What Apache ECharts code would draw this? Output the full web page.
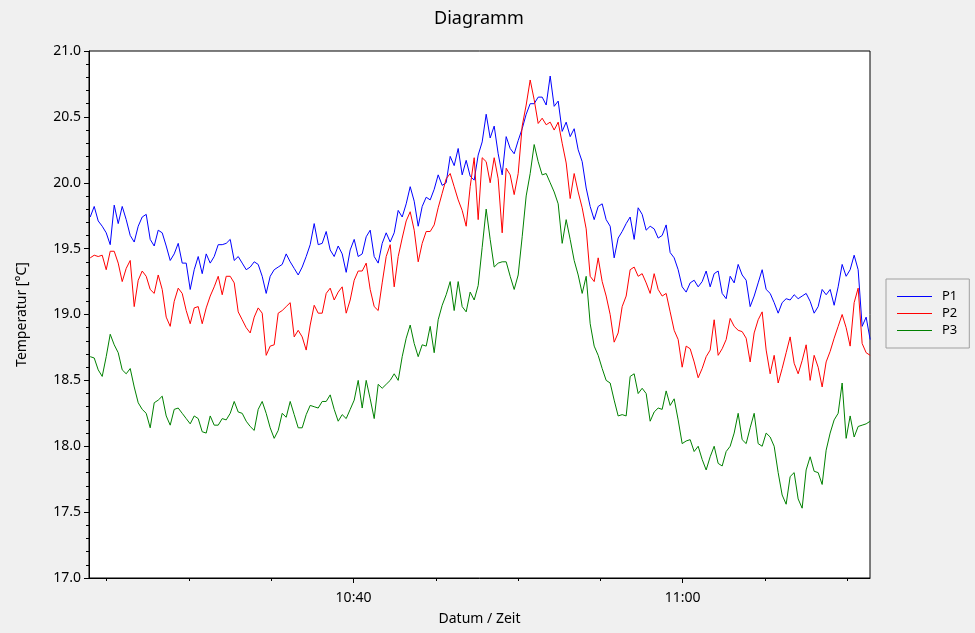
<!DOCTYPE html>
<html><head><meta charset="utf-8">
<script src="https://cdn.jsdelivr.net/npm/echarts@6/dist/echarts.min.js"></script>
<style>html,body{margin:0;padding:0;background:#f0f0f0}#c{width:975px;height:633px}</style>
</head><body><div id="c"></div>
<script>
// time in minutes after 10:00
const startMinute = 24.004;
const stepMinute = 0.2430;
const xMin = 23.93, xMax = 71.38;
const xTicks = [25, 30, 35, 45, 50, 55, 65, 70];
const xLabels = [40, 60];
const seriesNames = ['P1', 'P2', 'P3'];

const p1 = [
19.74,19.82,19.71,19.67,19.62,19.53,19.83,19.69,19.82,19.72,19.60,19.55,19.67,19.74,19.76,19.57,19.52,19.64,19.62,19.52,19.41,19.46,19.54,19.39,19.39,19.19,19.34,19.44,19.31,19.46,19.39,19.44,19.53,19.53,19.54,19.57,19.41,19.44,19.39,19.34,19.36,19.40,19.38,19.29,19.16,19.29,19.34,19.36,19.38,
19.46,19.40,19.35,19.30,19.36,19.44,19.53,19.69,19.53,19.54,19.63,19.49,19.44,19.52,19.46,19.32,19.49,19.57,19.44,19.46,19.59,19.64,19.44,19.39,19.54,19.62,19.55,19.62,19.79,19.74,19.84,19.97,19.86,19.67,19.82,19.89,19.87,19.95,20.06,19.98,20.00,20.20,20.13,20.26,20.06,20.17,20.05,20.02,20.21,
20.31,20.52,20.34,20.43,20.22,20.06,20.35,20.26,20.22,20.32,20.41,20.52,20.60,20.60,20.65,20.65,20.59,20.81,20.58,20.62,20.39,20.46,20.35,20.41,20.25,20.16,19.96,19.82,19.72,19.82,19.84,19.72,19.67,19.43,19.58,19.63,19.69,19.74,19.57,19.81,19.76,19.64,19.67,19.65,19.58,19.60,19.68,19.47,19.43,
19.34,19.21,19.17,19.24,19.26,19.21,19.25,19.33,19.21,19.31,19.33,19.16,19.12,19.29,19.24,19.38,19.30,19.26,19.06,19.14,19.24,19.34,19.19,19.16,19.09,19.01,19.09,19.12,19.11,19.15,19.12,19.14,19.16,19.10,19.01,19.06,19.19,19.15,19.19,19.07,19.21,19.38,19.29,19.34,19.45,19.34,18.91,18.98,18.81
];
const p2 = [
19.43,19.45,19.44,19.45,19.34,19.48,19.48,19.39,19.25,19.35,19.41,19.06,19.26,19.33,19.29,19.19,19.16,19.30,19.19,18.98,18.91,19.10,19.20,19.16,19.03,18.93,19.05,19.06,18.93,19.05,19.14,19.21,19.29,19.15,19.29,19.29,19.24,19.02,18.96,18.90,18.86,18.98,19.05,19.01,18.69,18.76,18.77,19.01,19.03,
19.06,19.09,18.83,18.88,18.83,18.73,18.92,19.07,19.01,19.01,19.16,19.20,19.11,19.17,19.21,19.01,19.11,19.26,19.33,19.33,19.39,19.19,19.06,19.03,19.24,19.44,19.53,19.21,19.44,19.58,19.71,19.78,19.64,19.40,19.54,19.63,19.63,19.68,19.81,19.92,20.03,20.07,19.97,19.87,19.79,19.67,19.97,20.19,19.72,
20.19,20.16,20.00,20.19,20.03,19.62,20.11,20.06,19.91,20.07,20.43,20.59,20.78,20.63,20.45,20.49,20.44,20.46,20.40,20.46,20.30,20.15,19.88,20.07,19.93,19.81,19.65,19.29,19.25,19.43,19.25,19.14,19.00,18.79,18.86,19.06,19.14,19.34,19.36,19.29,19.31,19.24,19.16,19.31,19.19,19.14,19.16,19.02,18.88,
18.81,18.60,18.76,18.74,18.64,18.52,18.59,18.68,18.73,18.96,18.69,18.74,18.81,18.97,18.91,18.88,18.87,18.82,18.64,18.86,18.96,19.02,18.73,18.55,18.69,18.48,18.59,18.71,18.83,18.63,18.55,18.65,18.77,18.50,18.69,18.60,18.45,18.64,18.72,18.82,18.91,19.00,18.90,18.76,19.09,19.20,18.78,18.71,18.69
];
const p3 = [
18.68,18.67,18.58,18.53,18.68,18.85,18.77,18.71,18.58,18.55,18.59,18.45,18.33,18.28,18.25,18.14,18.33,18.35,18.38,18.23,18.16,18.28,18.29,18.25,18.21,18.17,18.23,18.21,18.11,18.10,18.23,18.16,18.16,18.21,18.20,18.25,18.34,18.26,18.25,18.19,18.15,18.12,18.28,18.34,18.25,18.14,18.06,18.12,18.25,
18.22,18.34,18.24,18.14,18.14,18.24,18.31,18.30,18.29,18.34,18.34,18.39,18.28,18.19,18.24,18.21,18.28,18.35,18.50,18.29,18.50,18.36,18.21,18.47,18.44,18.47,18.50,18.55,18.50,18.68,18.82,18.92,18.78,18.68,18.77,18.76,18.91,18.71,18.96,19.07,19.15,19.25,19.03,19.25,19.06,19.02,19.17,19.11,19.22,
19.51,19.80,19.57,19.36,19.39,19.40,19.40,19.29,19.19,19.30,19.59,19.90,20.07,20.29,20.16,20.06,20.07,20.00,19.93,19.84,19.54,19.72,19.57,19.41,19.30,19.16,19.29,18.93,18.76,18.69,18.59,18.50,18.48,18.35,18.23,18.24,18.23,18.53,18.55,18.40,18.44,18.40,18.19,18.26,18.29,18.28,18.42,18.31,18.36,
18.20,18.02,18.04,18.05,17.96,18.00,17.90,17.82,17.92,18.00,17.87,17.85,17.96,18.00,18.10,18.25,18.05,18.02,18.14,18.25,18.02,18.00,18.10,18.07,18.00,17.80,17.63,17.56,17.77,17.80,17.60,17.53,17.82,17.92,17.81,17.80,17.71,17.97,18.10,18.20,18.25,18.48,18.06,18.23,18.07,18.15,18.16,18.17,18.19
];

const colors = ['#0000ff', '#ff0000', '#008000'];
const font = 'Noto Sans';

function pairs(arr) { return arr.map((v, i) => [startMinute + i * stepMinute, v]); }
function fmtTime(m) {
  const h = 10 + Math.floor(m / 60);
  const mm = Math.round(m % 60);
  return h + ':' + String(mm).padStart(2, '0');
}

const chart = echarts.init(document.getElementById('c'), null, { renderer: 'canvas' });
chart.setOption({
  animation: false,
  backgroundColor: '#f0f0f0',
  title: {
    text: 'Diagramm', left: 429, top: 5,
    textStyle: { fontFamily: font, fontSize: 18, fontWeight: 'normal', color: '#000' }
  },
  legend: {
    orient: 'vertical', left: 886, top: 279,
    padding: [11, 12, 11, 11], itemGap: 4, itemWidth: 35, itemHeight: 1, icon: 'rect',
    borderColor: '#a0a0a0', borderWidth: 1, backgroundColor: '#f0f0f0',
    textStyle: { fontFamily: font, fontSize: 13, color: '#000', padding: [0, 0, 0, 5] },
    data: seriesNames
  },
  grid: {
    left: 89, right: 105, top: 51, bottom: 55, show: true,
    backgroundColor: '#ffffff', borderColor: '#000', borderWidth: 1,
    containLabel: false, outerBoundsMode: 'none'
  },
  xAxis: [
    {
      type: 'value', min: xMin, max: xMax, position: 'bottom',
      axisLine: { show: true, lineStyle: { color: '#000', width: 1 } },
      axisTick: { show: true, length: 3, customValues: xTicks, lineStyle: { color: '#000' } },
      axisLabel: { show: false },
      splitLine: { show: false }
    },
    {
      type: 'value', min: xMin, max: xMax, position: 'bottom',
      axisLine: { show: false },
      axisTick: { show: true, length: 5, customValues: xLabels, lineStyle: { color: '#000' } },
      axisLabel: {
        show: true, customValues: xLabels, formatter: fmtTime, margin: 13,
        fontFamily: font, fontSize: 14, color: '#000'
      },
      splitLine: { show: false },
      name: 'Datum / Zeit', nameLocation: 'middle', nameGap: 34,
      nameTextStyle: { fontFamily: font, fontSize: 14, color: '#000' }
    }
  ],
  yAxis: {
    type: 'value', min: 17, max: 21, interval: 0.5,
    axisLine: { show: true, lineStyle: { color: '#000', width: 1 } },
    axisTick: { show: true, length: 5, lineStyle: { color: '#000' } },
    minorTick: { show: true, splitNumber: 5, length: 3, lineStyle: { color: '#000' } },
    axisLabel: {
      formatter: v => v.toFixed(1), margin: 8, showMinLabel: true, showMaxLabel: true,
      fontFamily: font, fontSize: 14, color: '#000'
    },
    splitLine: { show: false },
    name: 'Temperatur [°C]', nameLocation: 'middle', nameGap: 60, nameRotate: 90,
    nameTextStyle: { fontFamily: font, fontSize: 14, color: '#000' }
  },
  series: [p1, p2, p3].map((arr, k) => ({
    name: seriesNames[k], type: 'line', xAxisIndex: 0, data: pairs(arr),
    showSymbol: false, symbol: 'none', smooth: false, sampling: null,
    lineStyle: { width: 1, color: colors[k] }, itemStyle: { color: colors[k] },
    emphasis: { disabled: true }
  }))
});
</script></body></html>
